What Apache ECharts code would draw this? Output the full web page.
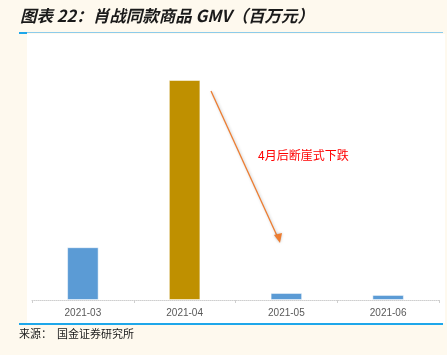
<!DOCTYPE html>
<html>
<head>
<meta charset="utf-8">
<script src="https://cdn.jsdelivr.net/npm/echarts@6/dist/echarts.min.js"></script>
<style>
html, body { margin: 0; padding: 0; background: #fef9ee; }
#main { width: 447px; height: 355px; }
</style>
</head>
<body>
<div id="main"></div>
<script>
var months = ['2021-03', '2021-04', '2021-05', '2021-06'];
var gmv = [24, 100, 3.2, 2.3];
var barColors = ['#5b9bd5', '#bf9000', '#5b9bd5', '#5b9bd5'];

var chart = echarts.init(document.getElementById('main'));

var option = {
    backgroundColor: '#fef9ee',
    animation: false,
    grid: { left: 32, right: 8, top: 36, bottom: 55 },
    xAxis: {
        type: 'category',
        data: months,
        axisLine: { lineStyle: { color: '#cfcfcf', type: 'dotted', width: 1 } },
        axisTick: { show: true, length: 3, lineStyle: { color: '#cfcfcf' } },
        axisLabel: { color: '#595959', fontSize: 10, margin: 8, fontFamily: 'Arial' }
    },
    yAxis: {
        type: 'value',
        min: 0,
        max: 120,
        show: false,
        splitLine: { show: false }
    },
    series: [{
        type: 'bar',
        barWidth: '31%',
        data: gmv.map(function (v, i) {
            return { value: v, itemStyle: { color: barColors[i], borderColor: 'rgba(255,255,255,0.5)', borderWidth: 1 } };
        }),
        z: 3
    }],
    graphic: [
        // white plot panel
        { type: 'rect', z: -10, silent: true, shape: { x: 27, y: 34, width: 418, height: 289 }, style: { fill: '#ffffff' } },
        // header rule
        { type: 'rect', z: -5, shape: { x: 27, y: 32, width: 416, height: 1 }, style: { fill: '#8ccbeb' } },
        { type: 'rect', z: -5, shape: { x: 19, y: 32, width: 8, height: 2 }, style: { fill: '#1ea7ea' } },
        // footer rule
        { type: 'rect', z: -5, shape: { x: 19, y: 323, width: 424, height: 2 }, style: { fill: '#1ea7ea' } },
        // title
        { type: 'text', left: 20, top: 7, style: { text: '图表 22：肖战同款商品 GMV（百万元）', fontSize: 16.5, fontStyle: 'italic', fontWeight: 'bold', fill: '#1a1a1a', fontFamily: 'Noto Sans CJK SC' } },
        // source
        { type: 'text', left: 19, top: 328, style: { text: '来源：  国金证券研究所', fontSize: 11, fill: '#1a1a1a', fontFamily: 'Noto Sans CJK SC' } },
        // arrow annotation
        { type: 'line', z: 10, shape: { x1: 211, y1: 91, x2: 278, y2: 238 }, style: { stroke: '#ed7d31', lineWidth: 1.3, shadowBlur: 3, shadowColor: 'rgba(0,0,0,0.25)', shadowOffsetX: 1, shadowOffsetY: 1 } },
        { type: 'polygon', z: 10, shape: { points: [[274, 235], [282, 233], [280, 243]] }, style: { fill: '#ed7d31', shadowBlur: 3, shadowColor: 'rgba(0,0,0,0.25)' } },
        { type: 'text', z: 10, left: 258, top: 149, style: { text: '4月后断崖式下跌', fontSize: 12, fill: '#ff0000', fontFamily: 'Noto Sans CJK SC' } }
    ]
};

chart.setOption(option);
</script>
</body>
</html>
